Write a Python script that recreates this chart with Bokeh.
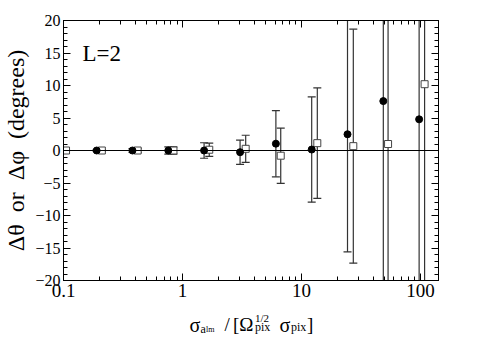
from bokeh.plotting import figure
from bokeh.layouts import column
from bokeh.models import (Range1d, FixedTicker, LogAxis, LinearAxis, SingleIntervalTicker,
                          Label, CustomJSTickFormatter, Span)
from bokeh.embed import file_html
from bokeh.resources import INLINE

# ---- data ----
circ_x = [0.19, 0.38, 0.76, 1.52, 3.05, 6.1, 12.2, 24.4, 48.8, 97.6]
circ_y = [0.0, 0.0, 0.0, 0.0, -0.26, 1.05, 0.15, 2.5, 7.6, 4.8]
circ_err = [0.15, 0.3, 0.57, 1.19, 1.86, 5.1, 8.1, 18.1, 40.0, 80.0]

sq_x = [0.105, 0.21, 0.42, 0.84, 1.68, 3.4, 6.7, 13.6, 27.3, 53.5, 108.5]
sq_y = [0.0, 0.0, 0.0, 0.0, 0.12, 0.26, -0.8, 1.13, 0.67, 1.0, 10.2]
sq_err = [0.12, 0.15, 0.3, 0.57, 1.03, 2.09, 4.25, 8.5, 18.0, 40.0, 80.0]

x_major = [0.1, 1, 10, 100]
x_minor = [m * 10 ** e for e in range(-1, 3) for m in range(2, 10)]
y_interval = 5

FONT = "Liberation Serif"
W = 477
LEFT = 63

p = figure(width=W, height=308, x_axis_type="log",
           x_range=Range1d(0.1, 142), y_range=Range1d(-20, 20),
           output_backend="svg", toolbar_location=None,
           min_border_left=LEFT, min_border_right=39,
           min_border_top=20, min_border_bottom=28)
p.xgrid.visible = False
p.ygrid.visible = False
p.outline_line_color = "black"
p.outline_line_width = 1
p.background_fill_color = "white"
p.border_fill_color = "white"

xt = FixedTicker(ticks=x_major, minor_ticks=x_minor)
yt = SingleIntervalTicker(interval=y_interval, num_minor_ticks=5)


def style_axis(ax):
    ax.major_tick_in = 7
    ax.major_tick_out = 0
    ax.minor_tick_in = 4
    ax.minor_tick_out = 0
    ax.axis_line_color = "black"
    ax.major_tick_line_color = "black"
    ax.minor_tick_line_color = "black"
    ax.major_label_text_font = FONT
    ax.major_label_text_color = "black"


xa = p.xaxis[0]
xa.ticker = xt
xa.formatter = CustomJSTickFormatter(code="return tick.toString();")
style_axis(xa)
xa.major_label_text_font_size = "19px"
xa.major_label_standoff = 3

ya = p.yaxis[0]
ya.ticker = yt
style_axis(ya)
ya.major_label_text_font_size = "16px"
ya.major_label_standoff = 3
ya.axis_label = "Δθ\u00a0 or\u00a0 Δφ\u00a0 (degrees)"
ya.axis_label_text_font = FONT
ya.axis_label_text_font_size = "24px"
ya.axis_label_text_font_style = "normal"
ya.axis_label_text_color = "black"
ya.axis_label_standoff = 3

top = LogAxis(ticker=xt, formatter=CustomJSTickFormatter(code="return '';"))
style_axis(top)
top.major_label_standoff = 0
p.add_layout(top, "above")

right = LinearAxis(ticker=yt, formatter=CustomJSTickFormatter(code="return '';"))
style_axis(right)
right.major_label_standoff = 0
p.add_layout(right, "right")

p.add_layout(Span(location=0, dimension="width", line_color="black", line_width=1))

BAR = "#333333"
# error bars
for xs, ys, es in ((circ_x, circ_y, circ_err), (sq_x, sq_y, sq_err)):
    lo = [y - e for y, e in zip(ys, es)]
    hi = [y + e for y, e in zip(ys, es)]
    p.segment(x0=xs, y0=lo, x1=xs, y1=hi, line_color=BAR, line_width=1.2)
    p.scatter(x=xs, y=lo, marker="dash", size=8, line_color=BAR, line_width=1.2)
    p.scatter(x=xs, y=hi, marker="dash", size=8, line_color=BAR, line_width=1.2)

p.scatter(x=sq_x, y=sq_y, marker="square", size=7, fill_color="white",
          line_color="#444444", line_width=1)
p.scatter(x=circ_x, y=circ_y, marker="circle", size=7, fill_color="black",
          line_color="black")

# frame bottom-left in the picture is at (63, 280); screen units are relative to it
p.add_layout(Label(x=82 - LEFT, y=280 - 53, x_units="screen", y_units="screen", text="L=2",
                   text_font=FONT, text_font_size="23px", text_color="black",
                   text_baseline="alphabetic"))

# x-axis title: a strip below the plot (its frame is aligned with the plot's frame)
STRIP_H = 30
t = figure(width=W, height=STRIP_H, x_range=Range1d(0, 1), y_range=Range1d(0, 1),
           output_backend="svg", toolbar_location=None,
           x_axis_location=None, y_axis_location=None,
           min_border_left=LEFT, min_border_right=39, min_border_top=0, min_border_bottom=0)
t.xgrid.visible = False
t.ygrid.visible = False
t.outline_line_color = None
t.background_fill_color = "white"
t.border_fill_color = "white"

REF_BOTTOM = 346  # calibrated from the previous renders

def blab(text, ix, iy, size):
    t.add_layout(Label(x=ix - LEFT, y=REF_BOTTOM - iy, x_units="screen", y_units="screen",
                       text=text, text_font=FONT, text_font_size=size, text_color="black",
                       text_baseline="alphabetic", text_align="left"))

blab("σ", 189, 332, "20px")
blab("a", 200, 336, "12px")
blab("lm", 205.5, 337, "8px")
blab("/", 224, 332, "19px")
blab("[Ω", 232.5, 332, "19px")
blab("1/2", 254.5, 325, "11px")
blab("pix", 254.5, 334, "12px")
blab("σ", 279, 332, "20px")
blab("pix", 290.5, 334, "12px")
blab("]", 306.5, 332, "19px")

open("out.html", "w").write(file_html(column(p, t, spacing=0), INLINE))
